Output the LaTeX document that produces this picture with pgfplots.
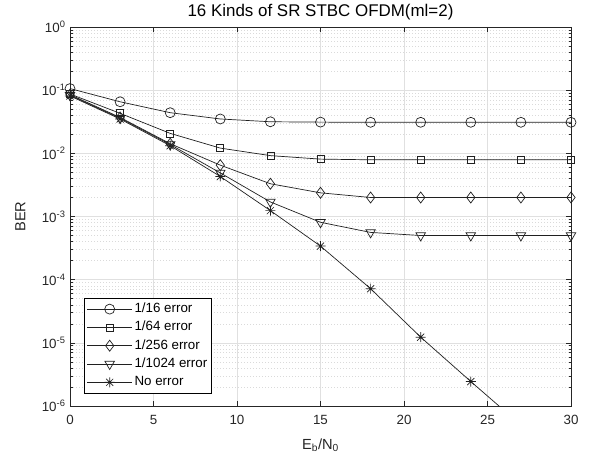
\documentclass[border=0pt]{standalone}
\usepackage{fontspec}
\setmainfont{Liberation Sans}
\usepackage{pgfplots}
\pgfplotsset{compat=1.18}

\definecolor{axgray}{HTML}{262626}
\definecolor{gridmaj}{HTML}{E0E0E0}
\definecolor{gridmin}{HTML}{DADADA}
\definecolor{lineblk}{HTML}{202020}

% MATLAB style '*' marker: plus and cross
\pgfdeclareplotmark{mstar}{%
  \pgfpathmoveto{\pgfqpoint{-\pgfplotmarksize}{0pt}}%
  \pgfpathlineto{\pgfqpoint{\pgfplotmarksize}{0pt}}%
  \pgfpathmoveto{\pgfqpoint{0pt}{-\pgfplotmarksize}}%
  \pgfpathlineto{\pgfqpoint{0pt}{\pgfplotmarksize}}%
  \pgfpathmoveto{\pgfqpoint{-0.707\pgfplotmarksize}{-0.707\pgfplotmarksize}}%
  \pgfpathlineto{\pgfqpoint{0.707\pgfplotmarksize}{0.707\pgfplotmarksize}}%
  \pgfpathmoveto{\pgfqpoint{-0.707\pgfplotmarksize}{0.707\pgfplotmarksize}}%
  \pgfpathlineto{\pgfqpoint{0.707\pgfplotmarksize}{-0.707\pgfplotmarksize}}%
  \pgfusepathqstroke}

\begin{document}
\begin{tikzpicture}
\begin{semilogyaxis}[
    scale only axis,
    width=501bp,
    height=379bp,
    xmin=0, xmax=30,
    ymin=1e-6, ymax=1,
    xtick={0,5,...,30},
    ytick={1e-6,1e-5,1e-4,1e-3,1e-2,1e-1,1},
    yticklabels={10\textsuperscript{-6},10\textsuperscript{-5},10\textsuperscript{-4},10\textsuperscript{-3},10\textsuperscript{-2},10\textsuperscript{-1},10\textsuperscript{0}},
    /pgf/number format/assume math mode=true,
    tick align=inside,
    major tick length=5bp,
    minor tick length=2.5bp,
    axis line style={axgray, line width=0.6bp},
    every tick/.style={axgray, line width=0.5bp},
    ticklabel style={font=\fontsize{13.4}{15}\selectfont, text=axgray},
    xticklabel style={yshift=-6bp},
    yticklabel style={xshift=-1bp},
    grid=both,
    major grid style={gridmaj, line width=0.5bp},
    minor grid style={gridmin, line width=0.5bp, dash pattern=on 1bp off 2bp},
    xminorgrids=false,
    title={16 Kinds of SR STBC OFDM(ml=2)},
    title style={font=\fontsize{17}{19}\selectfont, text=black, yshift=-2.5bp},
    xlabel={E\textsubscript{b}/N\textsubscript{0}},
    ylabel={BER},
    label style={font=\fontsize{14.7}{16}\selectfont, text=axgray},
    xlabel style={at={(axis description cs:0.5,-0.103)}, anchor=center},
    ylabel style={at={(axis description cs:-0.099,0.5)}, anchor=center},
    legend style={
        at={(0.028,0.034)}, anchor=south west,
        draw=black, line width=0.6bp,
        font=\fontsize{13.4}{14}\selectfont,
        inner xsep=2.5bp, inner ysep=2.5bp,
        row sep=2.3bp,
        nodes={inner xsep=2bp, inner ysep=1.5bp, text height=10bp, text depth=3bp},
    },
    legend cell align=left,
    legend image code/.code={%
        \draw[mark repeat=2,mark phase=2] plot coordinates {(0bp,0bp)(22.5bp,0bp)(45bp,0bp)};},
    every axis plot/.append style={lineblk, line width=0.7bp},
]

\addplot[mark=o, mark size=5bp] coordinates {
    (0,0.106) (3,0.0655) (6,0.044) (9,0.035) (12,0.0316) (15,0.0312)
    (18,0.031) (21,0.031) (24,0.031) (27,0.031) (30,0.031)
};
\addlegendentry{1/16 error}

\addplot[mark=square, mark size=3.5bp] coordinates {
    (0,0.087) (3,0.043) (6,0.0207) (9,0.0121) (12,0.0092) (15,0.0081)
    (18,0.0079) (21,0.0079) (24,0.0079) (27,0.0079) (30,0.0079)
};
\addlegendentry{1/64 error}

\addplot[mark=diamond, mark size=5.5bp] coordinates {
    (0,0.085) (3,0.037) (6,0.0142) (9,0.0065) (12,0.0033) (15,0.00237)
    (18,0.0020) (21,0.0020) (24,0.0020) (27,0.0020) (30,0.0020)
};
\addlegendentry{1/256 error}

\addplot[mark=triangle, mark size=5.5bp, mark options={rotate=180}] coordinates {
    (0,0.083) (3,0.036) (6,0.0138) (9,0.0049) (12,0.0017) (15,0.00081)
    (18,0.00056) (21,0.0005) (24,0.0005) (27,0.0005) (30,0.0005)
};
\addlegendentry{1/1024 error}

\addplot[mark=mstar, mark size=5bp] coordinates {
    (0,0.081) (3,0.035) (6,0.0132) (9,0.0043) (12,0.00124) (15,0.00034)
    (18,7.2e-5) (21,1.23e-5) (24,2.44e-6) (27,5e-7) (30,1e-7)
};
\addlegendentry{No error}

\end{semilogyaxis}
\path ([xshift=-70bp,yshift=-56bp]current axis.south west)
      rectangle ([xshift=19bp,yshift=27bp]current axis.north east);
\end{tikzpicture}
\end{document}
